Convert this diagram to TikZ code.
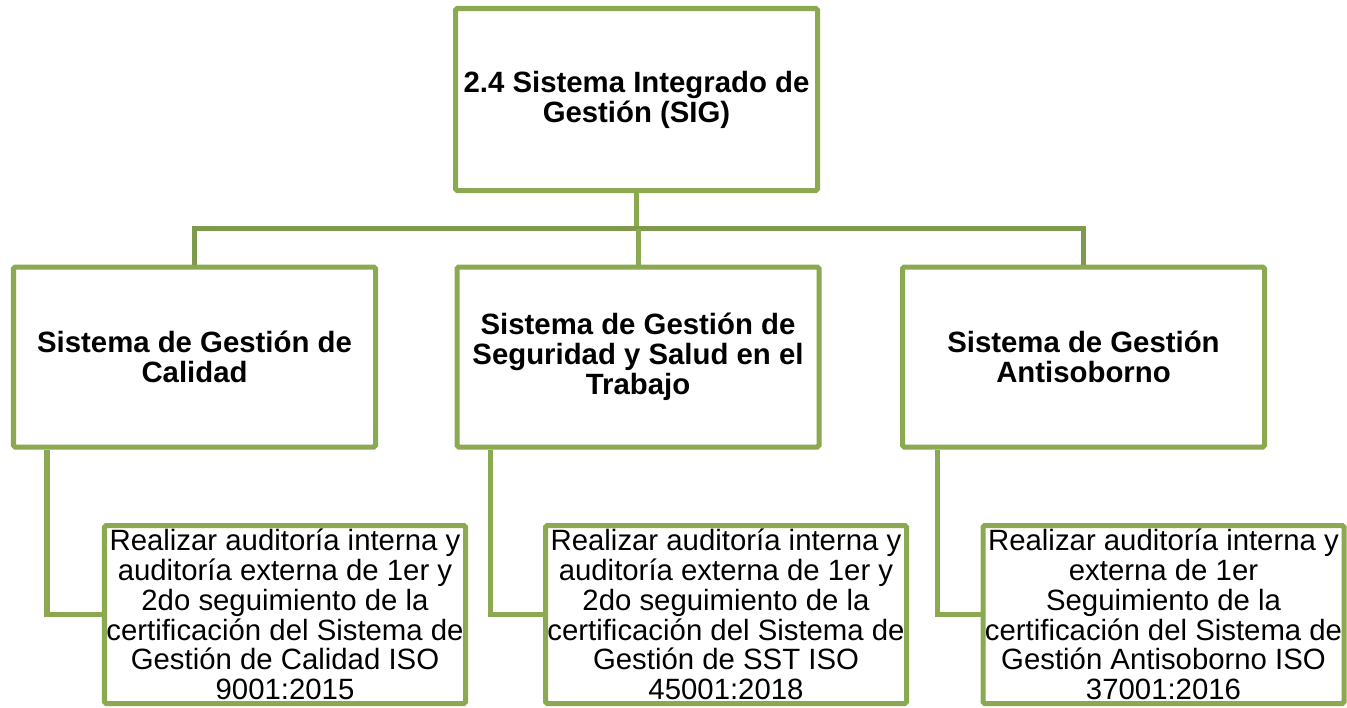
\documentclass[tikz,border=0pt]{standalone}
\usepackage{fontspec}
\setmainfont{Liberation Sans}
\usepackage{xcolor}
\usepackage{tikz}
\usetikzlibrary{positioning,calc}
\definecolor{verdesig}{RGB}{139,169,80}
\definecolor{verdebarra}{RGB}{127,154,76}
\tikzstyle{caja}= [rectangle, draw=verdesig, line width=2.85pt, rounded corners=1pt, fill=white, align=center, inner sep=0pt, minimum width=7.24cm, minimum height=3.6cm, font=\fontsize{16.7}{17}\selectfont\bfseries]
\tikzstyle{tarea}= [rectangle, draw=verdesig, line width=2.85pt, rounded corners=1pt, fill=white, align=center, inner sep=0pt, minimum width=7.22cm, minimum height=3.56cm, font=\fontsize{16.7}{17}\selectfont]
\tikzstyle{linea}= [draw=verdesig, line width=2.85pt]

\begin{document}
\begin{tikzpicture}
				\useasboundingbox (0,0) rectangle (26.94,-14.14);
				\node[caja, minimum height=3.64cm] (sig) at (12.73,-1.99) {2.4 Sistema Integrado de\\Gestión (SIG)};

				\node[caja] (sgc)  at (3.89,-7.14) {Sistema de Gestión de\\Calidad};
				\node[caja] (ssst) at (12.76,-7.14) {Sistema de Gestión de\\Seguridad y Salud en el\\Trabajo};
				\node[caja] (sga)  at (21.67,-7.14) {Sistema de Gestión\\Antisoborno};

				\node[tarea] (tc) at (5.70,-12.29) {Realizar auditoría interna y\\auditoría externa de 1er y\\2do seguimiento de la\\certificación del Sistema de\\Gestión de Calidad ISO\\9001:2015};
				\node[tarea] (ts) at (14.52,-12.29) {Realizar auditoría interna y\\auditoría externa de 1er y\\2do seguimiento de la\\certificación del Sistema de\\Gestión de SST ISO\\45001:2018};
				\node[tarea] (ta) at (23.27,-12.29) {Realizar auditoría interna y\\externa de 1er\\Seguimiento de la\\certificación del Sistema de\\Gestión Antisoborno ISO\\37001:2016};

				\coordinate (bar) at ($(sig.south)!0.5!(ssst.north)$);
				\draw[linea] (sig.south) -- (sig.south |- bar);
				\draw[linea, draw=verdebarra] (sgc.north) |- (bar) -| (sga.north);
				\draw[linea] (ssst.north |- bar) -- (ssst.north);

				\draw[linea] ($(sgc.south west)+(0.72,0)$) |- (tc.west);
				\draw[linea] ($(ssst.south west)+(0.72,0)$) |- (ts.west);
				\draw[linea] ($(sga.south west)+(0.74,0)$) |- (ta.west);
			\end{tikzpicture}
\end{document}
